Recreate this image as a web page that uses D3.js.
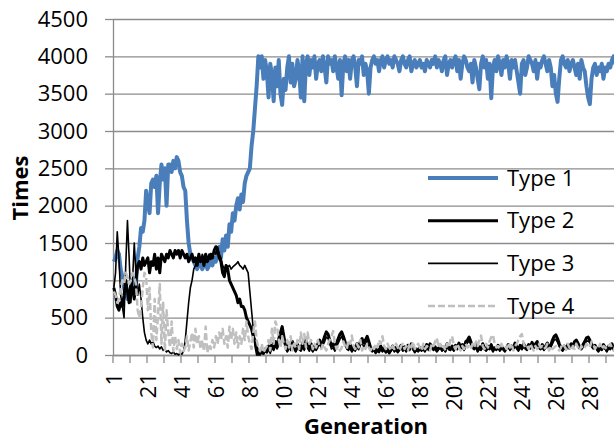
<body style="margin:0;background:#fff">
<div id="chart"></div>
<script src="https://d3js.org/d3.v7.min.js"></script>
<script>
// generations 1..300 (the right end is cut off by the window)
const gens = d3.range(1, 301);
const seriesNames = ["Type 1", "Type 2", "Type 3", "Type 4"];
const yTicks = [0, 500, 1000, 1500, 2000, 2500, 3000, 3500, 4000, 4500];
const xLabelGens = d3.range(1, 300, 20);
const xTickGens = d3.range(1, 301, 10);

const type1 = [
  1250, 1300, 1400, 1350, 1150, 1050, 900, 800, 750, 850,
  900, 1000, 800, 950, 1300, 1450, 1700, 1650, 1800, 2200,
  2050, 1900, 2300, 2350, 2250, 2400, 1900, 2300, 2550, 2350,
  2500, 2000, 2550, 2550, 2450, 2600, 2500, 2650, 2600, 2450,
  2400, 2250, 2200, 1800, 1500, 1350, 1300, 1250, 1200, 1150,
  1250, 1200, 1150, 1200, 1250, 1150, 1200, 1250, 1200, 1300,
  1250, 1350, 1450, 1300, 1550, 1400, 1600, 1450, 1750, 1650,
  1900, 1800, 2000, 2100, 1950, 2150, 2050, 2300, 2400, 2450,
  2500, 2800, 3000, 3300, 3600, 4000, 3850, 4000, 3700, 3950,
  3800, 3450, 3900, 3750, 3400, 3850, 3600, 3950, 3500, 3350,
  3700, 3550, 3850, 4000, 3650, 3900, 3600, 3700, 3950, 3800,
  3450, 4000, 3400, 3900, 4000, 3750, 3950, 3850, 4000, 3700,
  3900, 3950, 3800, 4000, 3850, 3650, 4000, 3900, 3950, 3800,
  4000, 3850, 3700, 3950, 3480, 3900, 4000, 3800, 3950, 3700,
  3950, 4000, 3850, 3600, 3950, 3900, 4000, 3750, 3900, 3800,
  3500, 3850, 3950, 4000, 3900, 3950, 3800, 3950, 4000, 3850,
  3950, 4000, 3900, 3950, 3850, 4000, 3950, 3900, 3800, 3950,
  4000, 3900, 3850, 3950, 4000, 3800, 3900, 3950, 3850, 3900,
  3950, 3850, 3900, 3800, 3950, 3900, 3850, 3950, 3900, 4000,
  3850, 3950, 3900, 3800, 3950, 4000, 3750, 3900, 3950, 3850,
  3950, 4000, 3800, 3950, 3700, 3900, 4000, 3950, 3850, 3800,
  3900, 3650, 3950, 3850, 3700, 3560, 3900, 4000, 3850, 3950,
  3700, 3900, 3440, 3850, 3950, 3800, 4000, 3900, 3750, 3950,
  3850, 4000, 3900, 3700, 3950, 3850, 3950, 3800, 3650, 3500,
  3900, 3950, 3750, 3850, 4000, 3950, 3900, 3800, 3950, 3700,
  3900, 3850, 3950, 4000, 3900, 3800, 3950, 3850, 3600, 3750,
  3500, 3390, 3700, 3950, 4000, 3900, 3850, 3950, 3800, 3900,
  3950, 3850, 3750, 3900, 3700, 3950, 3850, 3800, 3600, 3450,
  3360, 3700, 3850, 3900, 3750, 3850, 3800, 3900, 3700, 3850,
  3800, 3900, 3850, 3950, 4000, 3900, 3950, 4000, 3900, 3950
];

const type2 = [
  900, 800, 650, 600, 700, 650, 800, 1000, 850, 700,
  950, 900, 750, 1000, 1200, 1250, 1150, 1300, 1200, 1250,
  1300, 1100, 1250, 1200, 1350, 1150, 1300, 1100, 1350, 1300,
  1250, 1350, 1300, 1400, 1350, 1300, 1400, 1350, 1400, 1300,
  1400, 1350, 1300, 1350, 1250, 1300, 1350, 1250, 1300, 1200,
  1350, 1250, 1300, 1200, 1350, 1250, 1300, 1350, 1300, 1400,
  1450, 1400, 1300, 1250, 1100, 1050, 1200, 1150, 1000, 950,
  900, 850, 800, 700, 750, 650, 650, 600, 500, 450,
  400, 350, 250, 200, 100, 20, 10, 60, 20, 80,
  40, 120, 60, 150, 80, 180, 100, 220, 300, 380,
  250, 120, 60, 150, 90, 180, 120, 60, 140, 100,
  70, 160, 90, 200, 130, 80, 150, 60, 120, 90,
  150, 200, 130, 180, 250, 310, 280, 200, 120, 150,
  80, 160, 220, 280, 310, 250, 180, 120, 90, 140,
  60, 110, 80, 150, 100, 180, 220, 160, 200, 250,
  180, 100, 60, 90, 40, 80, 50, 120, 60, 100,
  40, 80, 30, 70, 120, 60, 100, 50, 90, 130,
  70, 110, 60, 130, 80, 150, 90, 50, 80, 60,
  100, 70, 110, 60, 140, 90, 150, 120, 80, 110,
  60, 90, 130, 70, 110, 60, 150, 100, 80, 120,
  70, 130, 90, 160, 110, 140, 80, 180, 200, 240,
  180, 120, 90, 140, 60, 110, 80, 150, 100, 70,
  120, 90, 140, 60, 100, 80, 130, 70, 110, 90,
  60, 100, 140, 80, 120, 90, 160, 110, 70, 130,
  90, 150, 110, 80, 140, 100, 170, 120, 150, 180,
  120, 90, 140, 80, 120, 160, 100, 130, 200, 250,
  270, 220, 150, 100, 70, 120, 90, 140, 110, 150,
  120, 180, 200, 160, 110, 90, 140, 180, 230, 240,
  200, 150, 100, 130, 90, 60, 110, 80, 140, 100,
  60, 120, 90, 150, 80, 110, 70, 130, 90, 110
];

const type3 = [
  900, 1100, 1650, 1300, 800, 650, 500, 1200, 1800, 1300,
  700, 1000, 1500, 1100, 800, 950, 750, 500, 300, 200,
  150, 200, 150, 180, 120, 100, 120, 80, 110, 60,
  80, 40, 60, 30, 20, 40, 10, 20, 0, 30,
  10, 50, 200, 450, 700, 900, 1000, 1150, 1200, 1250,
  1300, 1250, 1350, 1300, 1250, 1300, 1350, 1280, 1300, 1400,
  1350, 1450, 1350, 1300, 1200, 1150, 1200, 1180, 1200, 1150,
  1180, 1200, 1220, 1250, 1200, 1180, 1150, 1200, 1150, 1100,
  850, 600, 350, 120, 0, 0, 20, 40, 10, 60,
  30, 80, 20, 100, 60, 140, 80, 160, 220, 300,
  200, 90, 40, 110, 60, 130, 80, 40, 100, 70,
  50, 110, 60, 140, 90, 50, 100, 40, 80, 60,
  100, 150, 90, 130, 180, 240, 220, 150, 80, 100,
  50, 110, 160, 210, 250, 190, 130, 80, 60, 100,
  40, 80, 50, 100, 70, 130, 160, 110, 150, 190,
  130, 70, 40, 60, 20, 50, 30, 80, 40, 70,
  30, 60, 20, 50, 90, 40, 70, 30, 60, 100,
  50, 80, 40, 100, 60, 110, 70, 30, 60, 40,
  70, 50, 80, 40, 110, 60, 120, 90, 60, 80,
  40, 70, 100, 50, 80, 40, 110, 70, 60, 90,
  50, 100, 70, 120, 80, 110, 60, 140, 160, 190,
  140, 90, 70, 100, 40, 80, 60, 110, 70, 50,
  90, 70, 100, 40, 80, 60, 100, 50, 80, 70,
  40, 80, 110, 60, 90, 70, 120, 80, 50, 100,
  70, 110, 80, 60, 100, 80, 130, 90, 110, 140,
  90, 70, 100, 60, 90, 120, 80, 100, 150, 200,
  210, 170, 110, 80, 50, 90, 70, 100, 80, 110,
  90, 140, 150, 120, 80, 70, 100, 140, 180, 190,
  160, 110, 80, 100, 70, 40, 80, 60, 100, 80,
  40, 90, 70, 110, 60, 80, 50, 100, 70, 80
];

const type4 = [
  850, 800, 700, 750, 900, 1000, 950, 1100, 1050, 950,
  1000, 1100, 1050, 950, 600, 500, 650, 900, 1100, 1050,
  600, 900, 300, 100, 750, 200, 550, 950, 150, 700,
  50, 600, 300, 100, 450, 50, 250, 80, 200, 30,
  150, 50, 100, 250, 60, 180, 300, 100, 350, 150,
  250, 80, 200, 50, 380, 30, 150, 80, 200, 100,
  250, 150, 300, 200, 350, 150, 250, 100, 380, 200,
  350, 150, 300, 100, 250, 150, 350, 200, 450, 250,
  150, 80, 300, 450, 200, 100, 50, 150, 30, 80,
  120, 200, 60, 350, 150, 450, 380, 200, 100, 250,
  150, 80, 200, 100, 250, 60, 150, 100, 200, 80,
  300, 150, 280, 100, 300, 150, 200, 80, 150, 100,
  200, 120, 80, 150, 100, 60, 150, 200, 250, 320,
  150, 80, 120, 60, 100, 180, 120, 80, 200, 150,
  260, 120, 80, 150, 100, 200, 60, 120, 80, 150,
  100, 60, 120, 80, 150, 100, 200, 150, 250, 120,
  80, 150, 100, 60, 120, 80, 150, 100, 60, 120,
  150, 80, 120, 60, 150, 100, 180, 80, 120, 150,
  100, 60, 150, 80, 120, 100, 60, 150, 120, 180,
  230, 100, 150, 80, 120, 60, 150, 100, 200, 250,
  120, 80, 150, 100, 60, 120, 80, 150, 100, 120,
  80, 150, 100, 180, 120, 200, 260, 120, 80, 150,
  100, 180, 240, 270, 150, 100, 120, 80, 150, 100,
  120, 80, 160, 100, 150, 60, 120, 150, 200, 250,
  280, 150, 100, 120, 80, 150, 100, 60, 120, 80,
  150, 100, 120, 80, 100, 150, 60, 120, 80, 100,
  120, 80, 60, 100, 150, 120, 80, 150, 100, 60,
  120, 80, 150, 100, 60, 120, 80, 100, 150, 120,
  100, 180, 150, 80, 120, 100, 150, 80, 120, 100,
  80, 120, 150, 100, 60, 120, 80, 150, 100, 120
];

const allSeries = [type1, type2, type3, type4];
const styles = [
  { color: "#4a7ebb", width: 4, dash: null },
  { color: "#000000", width: 3, dash: null },
  { color: "#000000", width: 1.6, dash: null },
  { color: "#bfbfbf", width: 2.5, dash: "7,3" }
];

const font = "'Open Sans', sans-serif";
const gridColor = "#8c8c8c";

const svg = d3.select("#chart").append("svg")
  .attr("width", 614)
  .attr("height", 441)
  .style("font-family", font);

const x = d3.scaleBand().domain(gens).range([113, 623]).padding(0);
const y = d3.scaleLinear().domain([0, 4500]).range([355, 19]);
const bw = x.bandwidth();

// gridlines
svg.append("g")
  .attr("transform", "translate(113,0)")
  .call(d3.axisLeft(y).tickValues(yTicks).tickSize(-510).tickFormat(""))
  .call(g => g.select(".domain").remove())
  .call(g => g.selectAll("line").attr("stroke", gridColor).attr("stroke-width", 1.3));

// y axis
svg.append("g")
  .attr("transform", "translate(113,0)")
  .call(d3.axisLeft(y).tickValues(yTicks).tickSize(8).tickSizeOuter(0).tickPadding(17).tickFormat(d3.format("d")))
  .call(g => g.select(".domain").attr("stroke", gridColor).attr("stroke-width", 1.3))
  .call(g => g.selectAll("line").attr("stroke", gridColor).attr("stroke-width", 1.3))
  .call(g => g.selectAll("text").attr("font-size", 22).attr("font-family", font).attr("fill", "#000"));

// x axis tick marks between categories
svg.append("g")
  .attr("transform", `translate(${-bw / 2},355)`)
  .call(d3.axisBottom(x).tickValues(xTickGens).tickSize(8).tickSizeOuter(0).tickFormat(""))
  .call(g => g.select(".domain").remove())
  .call(g => g.selectAll("line").attr("stroke", gridColor).attr("stroke-width", 1.3));

// x axis line and labels
svg.append("g")
  .attr("transform", "translate(0,355)")
  .call(d3.axisBottom(x).tickValues(xLabelGens).tickSize(0).tickSizeOuter(0))
  .call(g => g.select(".domain").attr("stroke", gridColor).attr("stroke-width", 1.3))
  .call(g => g.selectAll("text")
    .attr("font-size", 22).attr("font-family", font).attr("fill", "#000")
    .attr("transform", "rotate(-90)")
    .attr("text-anchor", "end")
    .attr("x", -18).attr("y", 0).attr("dy", "0.35em"));

// series
const line = d3.line()
  .x((d, i) => x(gens[i]) + bw / 2)
  .y(d => y(d));

allSeries.forEach((s, k) => {
  svg.append("path")
    .datum(s)
    .attr("fill", "none")
    .attr("stroke", styles[k].color)
    .attr("stroke-width", styles[k].width)
    .attr("stroke-linejoin", "round")
    .attr("stroke-dasharray", styles[k].dash)
    .attr("d", line);
});

// axis titles
svg.append("text")
  .attr("transform", "translate(20,188) rotate(-90)")
  .attr("text-anchor", "middle")
  .attr("dy", "0.35em")
  .attr("font-size", 22)
  .attr("font-weight", "bold")
  .text("Times");

svg.append("text")
  .attr("x", 366)
  .attr("y", 434)
  .attr("text-anchor", "middle")
  .attr("font-size", 22)
  .attr("font-weight", "bold")
  .text("Generation");

// legend
const legendY = d3.scalePoint().domain(seriesNames).range([178, 306]);
const legend = svg.append("g");
seriesNames.forEach((name, k) => {
  const ly = legendY(name);
  legend.append("line")
    .attr("x1", 428).attr("x2", 498)
    .attr("y1", ly).attr("y2", ly)
    .attr("stroke", styles[k].color)
    .attr("stroke-width", styles[k].width)
    .attr("stroke-dasharray", styles[k].dash);
  legend.append("text")
    .attr("x", 507).attr("y", ly)
    .attr("dy", "0.35em")
    .attr("font-size", 22)
    .text(name);
});
</script>
</body>
